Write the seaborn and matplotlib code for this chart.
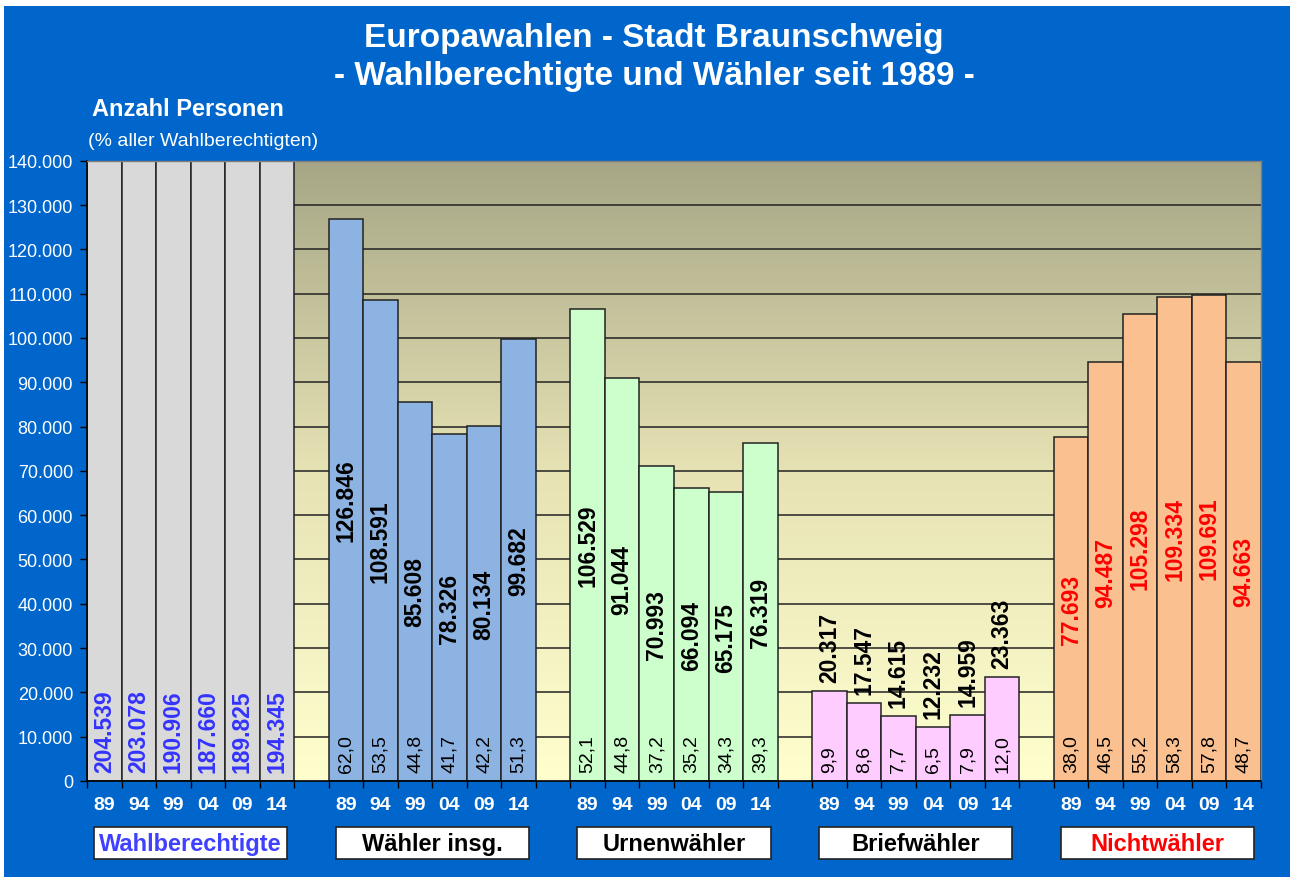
import numpy as np
import pandas as pd
import matplotlib.pyplot as plt
import matplotlib.transforms as mtransforms
import seaborn as sns
from matplotlib.colors import LinearSegmentedColormap
from matplotlib.patches import Rectangle

# data
years = ["89", "94", "99", "04", "09", "14"]
groups = ["Wahlberechtigte", "Wähler insg.", "Urnenwähler", "Briefwähler", "Nichtwähler"]

wahlberechtigte = [204539, 203078, 190906, 187660, 189825, 194345]
waehler_insg = [126846, 108591, 85608, 78326, 80134, 99682]
urnenwaehler = [106529, 91044, 70993, 66094, 65175, 76319]
briefwaehler = [20317, 17547, 14615, 12232, 14959, 23363]
nichtwaehler = [77693, 94487, 105298, 109334, 109691, 94663]

pct_waehler = [62.0, 53.5, 44.8, 41.7, 42.2, 51.3]
pct_urnen = [52.1, 44.8, 37.2, 35.2, 34.3, 39.3]
pct_brief = [9.9, 8.6, 7.7, 6.5, 7.9, 12.0]
pct_nicht = [38.0, 46.5, 55.2, 58.3, 57.8, 48.7]

values = [wahlberechtigte, waehler_insg, urnenwaehler, briefwaehler, nichtwaehler]
percents = [None, pct_waehler, pct_urnen, pct_brief, pct_nicht]

# styles per group
bar_colors = ["#D9D9D9", "#8DB3E2", "#CCFFCC", "#FFCCFF", "#FAC090"]
label_colors = ["#3333FF", "black", "black", "black", "#FF0000"]
box_text_colors = ["#4040FF", "black", "black", "black", "#FF0000"]
label_mode = ["bottom", "center", "center", "above", "center"]

rows = []
for g, name in enumerate(groups):
    for i, yr in enumerate(years):
        rows.append({"group": name, "year": yr, "slot": g * 7 + i,
                     "value": values[g][i],
                     "pct": percents[g][i] if percents[g] else np.nan})
df = pd.DataFrame(rows)

sns.set_style("ticks")
plt.rcParams["font.family"] = ["Liberation Sans", "DejaVu Sans"]

fig = plt.figure(figsize=(12.9, 8.78), dpi=100)
fig.patch.set_facecolor("white")
fig.patches.append(Rectangle((4 / 1290, 0), 1, 1 - 7 / 878, transform=fig.transFigure,
                             facecolor="#0066CC", edgecolor="none", zorder=-10))

ax = fig.add_axes([87 / 1290, 96 / 878, (1261 - 87) / 1290, (782 - 161.7) / 878])

# gradient background of the plot area
cmap = LinearSegmentedColormap.from_list("bg", ["#FFFFCE", "#E6E2B4", "#A6A686"])
ax.imshow(np.linspace(0, 1, 256).reshape(-1, 1), extent=[-0.5, 33.5, 0, 140000],
          aspect="auto", cmap=cmap, origin="lower", zorder=0)

for g, name in enumerate(groups):
    sub = df[df["group"] == name]
    sns.barplot(x=sub["slot"], y=sub["value"], native_scale=True, width=1,
                color=bar_colors[g], saturation=1, edgecolor="#222222",
                linewidth=1.1, ax=ax, zorder=2)
    for _, r in sub.iterrows():
        txt = f"{r['value']:,}".replace(",", ".")
        if label_mode[g] == "bottom":
            ax.annotate(txt, (r["slot"], 0), xytext=(0, 6.5), textcoords="offset points",
                        rotation=90, ha="center", va="bottom", fontsize=16.5,
                        fontweight="bold", color=label_colors[g], zorder=5)
        elif label_mode[g] == "center":
            ax.text(r["slot"], r["value"] / 2, txt, rotation=90, ha="center",
                    va="center", fontsize=16.5, fontweight="bold",
                    color=label_colors[g], zorder=5)
        else:
            ax.annotate(txt, (r["slot"], r["value"]), xytext=(0, 6.5),
                        textcoords="offset points", rotation=90, ha="center",
                        va="bottom", fontsize=16.5, fontweight="bold",
                        color=label_colors[g], zorder=5)
        if not np.isnan(r["pct"]):
            ax.annotate(f"{r['pct']:.1f}".replace(".", ","), (r["slot"], 0),
                        xytext=(0, 6.5), textcoords="offset points", rotation=90,
                        ha="center", va="bottom", fontsize=14, color="black",
                        zorder=5)

ax.set_xlim(-0.5, 33.5)
ax.set_ylim(0, 140000)
ax.set_xlabel("")
ax.set_ylabel("")

# gridlines
for yv in range(10000, 140001, 10000):
    ax.axhline(yv, color="#222222", lw=1.1, zorder=1)

# y axis
ax.set_yticks(range(0, 140001, 10000))
ax.set_yticklabels([f"{v:,}".replace(",", ".") for v in range(0, 140001, 10000)])
ax.tick_params(axis="y", direction="out", length=5, width=1, color="black",
               labelcolor="white", labelsize=13, pad=5)

# x axis: ticks at bar boundaries, year labels at bar centres
bounds = [g * 7 - 0.5 + k for g in range(5) for k in range(7)]
ax.set_xticks(bounds)
ax.set_xticklabels([])
ax.tick_params(axis="x", which="major", direction="out", length=5, width=1,
               color="black")
ax.set_xticks(df["slot"], minor=True)
ax.set_xticklabels(df["year"], minor=True)
ax.tick_params(axis="x", which="minor", length=0, pad=11, labelcolor="white",
               labelsize=14)
for lbl in ax.get_xticklabels(minor=True):
    lbl.set_fontweight("bold")

for s in ["left", "bottom"]:
    ax.spines[s].set_color("black")
    ax.spines[s].set_linewidth(1.2)
for s in ["top", "right"]:
    ax.spines[s].set_color("#7F7F7F")
    ax.spines[s].set_linewidth(1)

# group name boxes below the axis
blend = mtransforms.blended_transform_factory(ax.transData, fig.transFigure)
box_w = 193 / 34.5
for g, name in enumerate(groups):
    cx = g * 7 + 2.5
    ax.add_patch(Rectangle((cx - box_w / 2, 1 - 860 / 878), box_w, 32 / 878,
                           transform=blend, facecolor="white", edgecolor="#222222",
                           lw=1.2, clip_on=False, zorder=5))
    ax.text(cx, 1 - 845 / 878, name, transform=blend, ha="center", va="center",
            fontsize=17, fontweight="bold", color=box_text_colors[g], zorder=6)

# titles
fig.text(0.507, 1 - 38 / 878, "Europawahlen - Stadt Braunschweig", ha="center",
         va="center", fontsize=24, fontweight="bold", color="white")
fig.text(0.507, 1 - 76 / 878, "- Wahlberechtigte und Wähler seit 1989 -", ha="center",
         va="center", fontsize=24, fontweight="bold", color="white")
fig.text(188 / 1290, 1 - 110 / 878, "Anzahl Personen", ha="center", va="center",
         fontsize=17, fontweight="bold", color="white")
fig.text(203 / 1290, 1 - 142 / 878, "(% aller Wahlberechtigten)", ha="center",
         va="center", fontsize=14, color="white")

fig.savefig("out.png", dpi=100)
